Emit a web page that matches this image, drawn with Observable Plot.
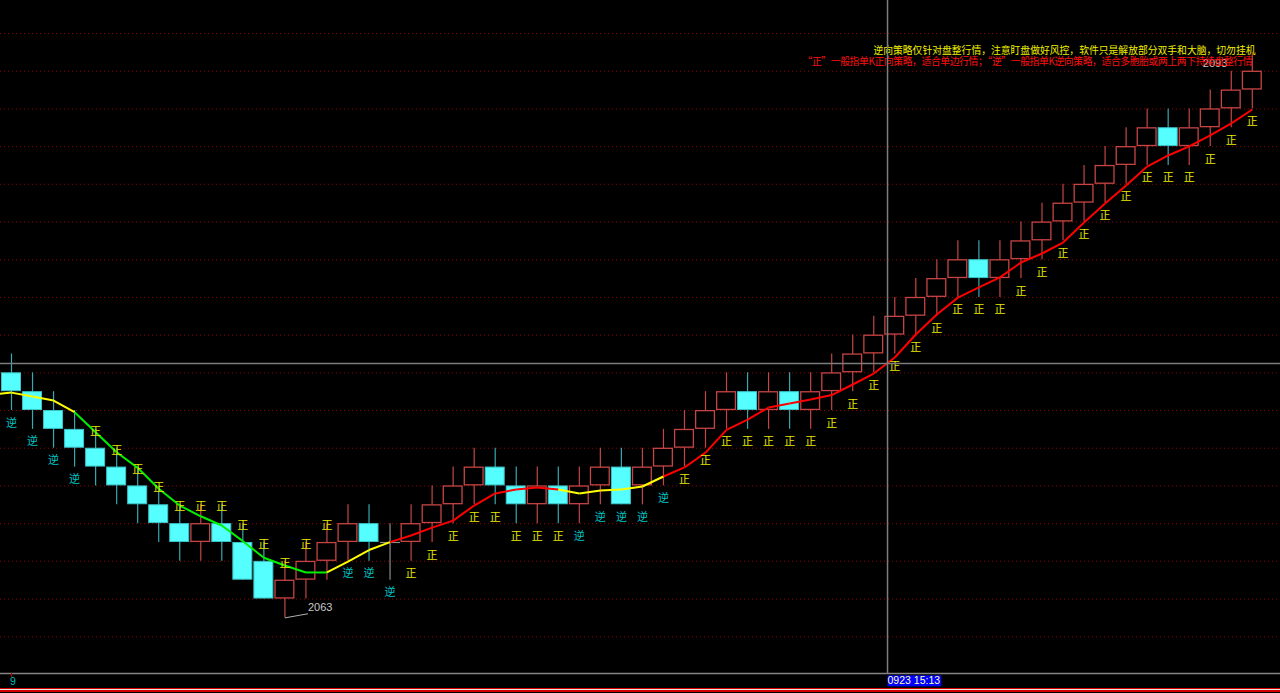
<!DOCTYPE html>
<html><head><meta charset="utf-8">
<script src="https://cdn.jsdelivr.net/npm/d3@7"></script>
<script src="https://cdn.jsdelivr.net/npm/@observablehq/plot@0.6"></script>
<style>
html,body{margin:0;padding:0;background:#000;overflow:hidden}
#chart svg{display:block}
#strip{height:6px;background:linear-gradient(to bottom,#000 0 1px,#d40000 1px 2px,#e8e8e8 2px 3px,#d40000 3px 5px,#000 5px 6px)}
</style></head><body><div id="chart"></div><div id="strip"></div>
<script>
// ---- data ----
const cols = d3.range(1, 61);
const dir = ["D","D","D","D","D","D","D","D","D","U",
             "D","D","D","U","U","U","U","D","X","U",
             "U","U","U","D","D","U","D","U","U","D",
             "U","U","U","U","U","D","U","D","U","U",
             "U","U","U","U","U","U","D","U","U","U",
             "U","U","U","U","U","D","U","U","U","U"];
const bodyLow = [2075,2074,2073,2072,2071,2070,2069,2068,2067,2067,
                 2067,2065,2064,2064,2065,2066,2067,2067,2067,2067,
                 2068,2069,2070,2070,2069,2069,2069,2069,2070,2069,
                 2070,2071,2072,2073,2074,2074,2074,2074,2074,2075,
                 2076,2077,2078,2079,2080,2081,2081,2081,2082,2083,
                 2084,2085,2086,2087,2088,2088,2088,2089,2090,2091];
const bodyHigh = [2076,2075,2074,2073,2072,2071,2070,2069,2068,2068,
                  2068,2067,2066,2065,2066,2067,2068,2068,2067,2068,
                  2069,2070,2071,2071,2070,2070,2070,2070,2071,2071,
                  2071,2072,2073,2074,2075,2075,2075,2075,2075,2076,
                  2077,2078,2079,2080,2081,2082,2082,2082,2083,2084,
                  2085,2086,2087,2088,2089,2089,2089,2090,2091,2092];
const high = [2077,2076,2075,2074,2073,2072,2071,2070,2069,2069,
              2069,2068,2067,2066,2067,2068,2069,2069,2068,2069,
              2070,2071,2072,2072,2071,2071,2071,2071,2072,2072,
              2072,2073,2074,2075,2076,2076,2076,2076,2076,2077,
              2078,2079,2080,2081,2082,2083,2083,2083,2084,2085,
              2086,2087,2088,2089,2090,2090,2090,2091,2092,2093];
const low = [2074,2073,2072,2071,2070,2069,2068,2067,2066,2066,
             2066,2065,2064,2063,2064,2065,2066,2066,2065,2066,
             2067,2068,2069,2069,2068,2068,2068,2068,2069,2069,
             2069,2070,2071,2072,2073,2073,2073,2073,2073,2074,
             2075,2076,2077,2078,2079,2080,2080,2080,2081,2082,
             2083,2084,2085,2086,2087,2087,2087,2088,2089,2090];
const signal = ["逆","逆","逆","逆","正","正","正","正","正","正",
                "正","正","正","正","正","正","逆","逆","逆","正",
                "正","正","正","正","正","正","正","逆","逆","逆",
                "逆","逆","正","正","正","正","正","正","正","正",
                "正","正","正","正","正","正","正","正","正","正",
                "正","正","正","正","正","正","正","正","正","正"];
const signalSide = ["below","below","below","below","above","above","above","above","above","above",
                    "above","above","above","above","above","above","below","below","below","below",
                    "below","below","below","below","below","below","below","below","below","below",
                    "below","below","below","below","below","below","below","below","below","below",
                    "below","below","below","below","below","below","below","below","below","below",
                    "below","below","below","below","below","below","below","below","below","below"];
// moving average, index 0 (just off the left edge) .. 60
const ma = [2074.85,
  2074.95,2074.74,2074.53,2073.91,2072.85,2071.79,2070.96,2069.85,2068.96,2068.39,
  2067.90,2067.07,2066.19,2065.78,2065.41,2065.41,2065.99,2066.60,2067.02,2067.37,
  2067.79,2068.16,2068.96,2069.60,2069.81,2069.92,2069.81,2069.60,2069.76,2069.81,
  2069.97,2070.50,2070.98,2071.77,2072.97,2073.52,2074.16,2074.37,2074.58,2074.82,
  2075.38,2075.96,2076.81,2078.03,2079.09,2079.99,2080.53,2081.06,2081.85,2082.33,
  2082.91,2083.97,2084.98,2085.94,2086.94,2087.53,2088.01,2088.59,2089.23,2089.97];
// trend state of the MA segment ending at each column
const maTrend = ["Y","Y","Y","Y","G","G","G","G","G","G",
                 "G","G","G","G","G","G","Y","Y","Y","R",
                 "R","R","R","R","R","R","R","Y","Y","Y",
                 "Y","Y","R","R","R","R","R","R","R","R",
                 "R","R","R","R","R","R","R","R","R","R",
                 "R","R","R","R","R","R","R","R","R","R"];
const extremes = [{col: 14, price: 2063, label: "2063"}, {col: 60, price: 2093, label: "2093"}];
const crosshair = {col: 42.655, price: 2076.49, label: "0923 15:13"};
const axisTickLabel = {col: 1, label: "9"};
const gridLevels = d3.range(2062, 2096, 2);
const noteLine1 = "逆向策略仅针对盘整行情，注意盯盘做好风控，软件只是解放部分双手和大脑，切勿挂机";
const noteLine2 = "“正”一般指单K正向策略，适合单边行情；“逆”一般指单K逆向策略，适合多胞胎或两上两下持续盘整行情";
const yFloor = 2060.05, yTop = 2095.75;

// ---- build ----
const bars = cols.map((c, k) => ({col: c, dir: dir[k], lo: bodyLow[k], hi: bodyHigh[k],
  high: high[k], low: low[k], sig: signal[k], side: signalSide[k]}));
const segs = cols.map((c, k) => ({x1: c - 1, y1: ma[c - 1], x2: c, y2: ma[c], t: maTrend[k]}));
const trendColor = {Y: "#ffff00", G: "#00f000", R: "#ff0000"};
const wickColor = {U: "#c24646", D: "#38a8b0", X: "#8c8c8c"};
const cjk = "'Noto Sans CJK SC', sans-serif";
const latin = "'Liberation Sans', Arial, sans-serif";
const W = 0.475;

const chart = Plot.plot({
  width: 1280, height: 687, margin: 0,
  x: {domain: [1, 60], range: [11, 1251.8], axis: null},
  y: {domain: [yFloor, yTop], range: [673, 0], axis: null},
  clip: true,
  style: {background: "#000", overflow: "hidden"},
  marks: [
    Plot.ruleY(gridLevels, {stroke: "#900000", strokeDasharray: "1,3", strokeWidth: 1}),
    Plot.ruleX(bars, {x: "col", y1: "low", y2: "high", stroke: d => wickColor[d.dir], strokeWidth: 1.2}),
    Plot.rect(bars.filter(d => d.dir === "U"), {x1: d => d.col - W, x2: d => d.col + W, y1: "lo", y2: "hi",
      fill: "#000", stroke: "#c84444", strokeWidth: 1.3, inset: 0.6}),
    Plot.rect(bars.filter(d => d.dir === "D"), {x1: d => d.col - W, x2: d => d.col + W, y1: "lo", y2: "hi",
      fill: "#55ffff", stroke: "#3cc4c8", strokeWidth: 1, inset: 0.5}),
    Plot.link(bars.filter(d => d.dir === "X"), {x1: d => d.col - W, x2: d => d.col + W, y1: "lo", y2: "lo",
      stroke: "#8c8c8c", strokeWidth: 1.2}),
    Plot.link(segs, {x1: "x1", y1: "y1", x2: "x2", y2: "y2", stroke: d => trendColor[d.t], strokeWidth: 2}),
    Plot.text(bars.filter(d => d.side === "above"), {x: "col", y: "high", text: "sig", dy: 2,
      fill: d => d.sig === "正" ? "#e8e800" : "#00c8c8", fontSize: 11, fontFamily: cjk}),
    Plot.text(bars.filter(d => d.side === "below"), {x: "col", y: "low", text: "sig", dy: 12.5,
      fill: d => d.sig === "正" ? "#e8e800" : "#00c8c8", fontSize: 11, fontFamily: cjk}),
    Plot.link([extremes[0]], {x1: "col", y1: "price", x2: d => d.col + 1.1, y2: d => d.price + 0.22,
      stroke: "#b0b0b0", strokeWidth: 1}),
    Plot.text([extremes[0]], {x: "col", y: "price", text: "label", dx: 23, dy: -10, textAnchor: "start",
      fill: "#c8c8c8", fontSize: 11, fontFamily: latin}),
    Plot.text([extremes[1]], {x: "col", y: "price", text: "label", dx: -25, dy: 11, textAnchor: "end",
      fill: "#c8c8c8", fontSize: 11, fontFamily: latin}),
    Plot.text([noteLine1], {frameAnchor: "top-right", dx: -25, dy: 50, textAnchor: "end", lineAnchor: "middle",
      fill: "#f0f000", fontSize: 9.8, fontFamily: cjk}),
    Plot.text([noteLine2], {frameAnchor: "top-right", dx: -28, dy: 61, textAnchor: "end", lineAnchor: "middle",
      fill: "#ff1010", fontSize: 9.8, fontFamily: cjk}),
    Plot.ruleX([crosshair], {x: "col", y1: yFloor, y2: yTop, stroke: "#7d7d7d", strokeWidth: 1.5}),
    Plot.ruleY([crosshair], {y: "price", stroke: "#7d7d7d", strokeWidth: 1.5}),
    Plot.ruleY([yFloor], {stroke: "#858585", strokeWidth: 1.5}),
    Plot.ruleX([axisTickLabel], {x: "col", y1: yFloor, y2: yFloor, insetBottom: -4, stroke: "#c00000"}),
    Plot.text([axisTickLabel], {x: "col", text: "label", frameAnchor: "bottom", lineAnchor: "middle", dy: -5.5, dx: 1.5,
      fill: "#00b8b8", fontSize: 10.5, fontFamily: latin}),
    Plot.text([crosshair], {x: "col", text: "label", frameAnchor: "bottom", lineAnchor: "middle", dy: -6.5,
      textAnchor: "start", fill: "#ffffa8", fontSize: 10.5, fontFamily: latin})
  ]
});
document.getElementById("chart").append(chart);
const texts = Array.from(chart.querySelectorAll("text"));
// blue background behind the crosshair time label (same transform as its text)
const t = texts.find(e => e.textContent === crosshair.label);
if (t) {
  const b = t.getBBox();
  const r = document.createElementNS("http://www.w3.org/2000/svg", "rect");
  r.setAttribute("x", b.x); r.setAttribute("y", b.y + 1);
  r.setAttribute("width", b.width + 1); r.setAttribute("height", b.height - 1);
  r.setAttribute("fill", "#0000ff");
  const tr = t.getAttribute("transform");
  if (tr) r.setAttribute("transform", tr);
  const tx = t.getAttribute("x"), ty = t.getAttribute("y");
  if (tx !== null && !tr) { r.setAttribute("x", b.x); }
  t.parentNode.insertBefore(r, t);
}
// the reference's second note line is set with narrow quotes: fit it to the same width
const n2 = texts.find(e => e.textContent === noteLine2);
if (n2) { n2.setAttribute("textLength", 450); n2.setAttribute("lengthAdjust", "spacing"); }
</script></body></html>
